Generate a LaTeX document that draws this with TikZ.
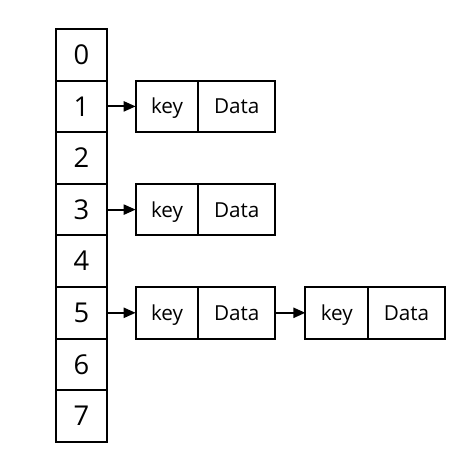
\documentclass[tikz,border=0pt]{standalone}
\usepackage{fontspec}
\setmainfont{Open Sans}
\usetikzlibrary{arrows.meta, positioning}

\begin{document}
\begin{tikzpicture}[
    x=0.75pt, y=-0.75pt,
    >={Triangle[length=9pt, width=7.5pt]},
    slot/.style={rectangle, draw=black, line width=1.5pt, outer sep=0pt,
                inner sep=0pt, minimum width=38.7pt, minimum height=38.7pt,
                text height=14.6pt, text depth=0pt,
                font=\fontsize{20.5}{24}\selectfont},
    keybox/.style={rectangle, draw=black, line width=1.5pt, outer sep=0pt,
                inner sep=0pt, minimum width=47pt, minimum height=38.7pt,
                text height=11.1pt, text depth=0pt,
                font=\fontsize{15.5}{18}\selectfont},
    databox/.style={keybox, minimum width=57.5pt},
    link/.style={->, line width=1.6pt},
]
\useasboundingbox (0,0) rectangle (472,472);
% hash table slots
\foreach \i in {0,...,7}
    \node[slot] (c\i) at (81.5, {29+51.6*(\i+0.5)}) {\i};
% entries
\node[keybox, right=21.3pt of c1]   (k1)  {key};
\node[databox, right=0pt of k1]     (d1)  {Data};
\node[keybox, right=21.3pt of c3]   (k3)  {key};
\node[databox, right=0pt of k3]     (d3)  {Data};
\node[keybox, right=21.3pt of c5]   (k5)  {key};
\node[databox, right=0pt of k5]     (d5)  {Data};
\node[keybox, right=22.8pt of d5]   (k5b) {key};
\node[databox, right=0pt of k5b]    (d5b) {Data};
% links
\draw[link] (c1) -- (k1);
\draw[link] (c3) -- (k3);
\draw[link] (c5) -- (k5);
\draw[link] (d5) -- (k5b);
\end{tikzpicture}
\end{document}
